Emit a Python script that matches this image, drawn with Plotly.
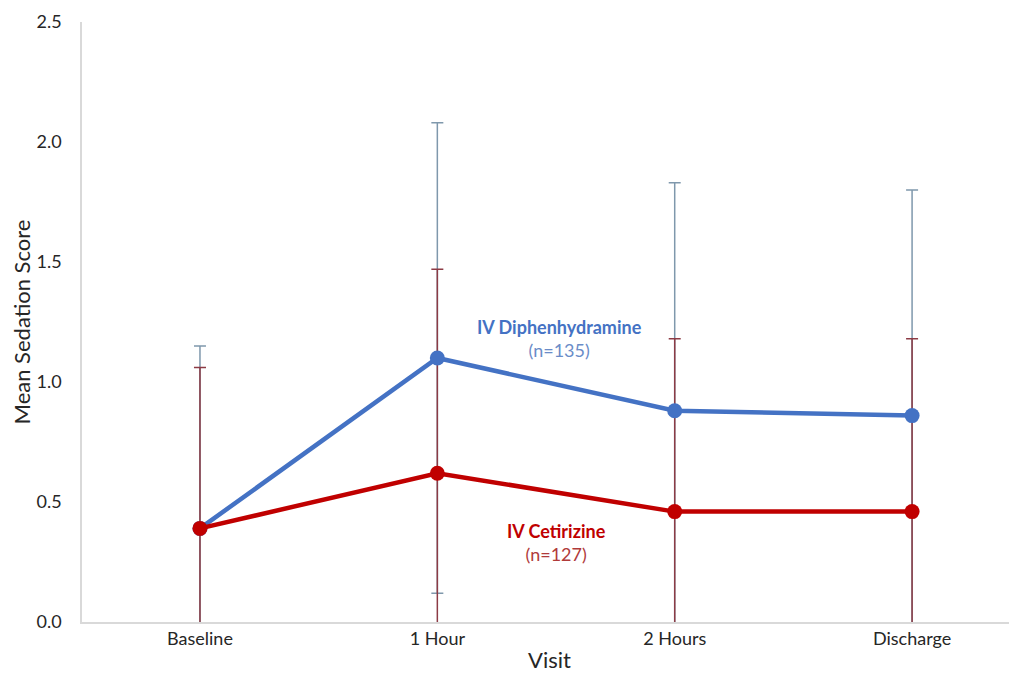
import plotly.graph_objects as go

visits = ["Baseline", "1 Hour", "2 Hours", "Discharge"]
diph_mean = [0.39, 1.10, 0.88, 0.86]
diph_err = [0.76, 0.98, 0.95, 0.94]
ceti_mean = [0.39, 0.62, 0.46, 0.46]
ceti_err = [0.67, 0.85, 0.72, 0.72]
y_ticks = [0.0, 0.5, 1.0, 1.5, 2.0, 2.5]

BLUE = "#4472C4"
RED = "#C00000"
FONT = "Lato, Open Sans, sans-serif"

fig = go.Figure()
# error bars (below lines)
fig.add_trace(go.Scatter(x=visits, y=diph_mean, mode="markers",
                         marker=dict(color="rgba(0,0,0,0)", size=1),
                         error_y=dict(type="data", array=diph_err, color="#7f98ac",
                                      thickness=1.5, width=6),
                         showlegend=False, hoverinfo="skip"))
fig.add_trace(go.Scatter(x=visits, y=ceti_mean, mode="markers",
                         marker=dict(color="rgba(0,0,0,0)", size=1),
                         error_y=dict(type="data", array=ceti_err, color="#8c3b45",
                                      thickness=1.5, width=6),
                         showlegend=False, hoverinfo="skip"))
fig.add_trace(go.Scatter(x=visits, y=diph_mean, mode="lines+markers", name="IV Diphenhydramine",
                         line=dict(color=BLUE, width=4.5),
                         marker=dict(color=BLUE, size=15), showlegend=False))
fig.add_trace(go.Scatter(x=visits, y=ceti_mean, mode="lines+markers", name="IV Cetirizine",
                         line=dict(color=RED, width=4.5),
                         marker=dict(color=RED, size=15), showlegend=False))

fig.add_annotation(x=1.516, y=1.183,
                   text="<b>IV Diphenhydramine</b><br><span style='color:#6a8cc8'>(n=135)</span>",
                   showarrow=False, align="center",
                   font=dict(family=FONT, size=18, color=BLUE))
fig.add_annotation(x=1.50, y=0.33,
                   text="<b>IV Cetirizine</b><br><span style='color:#b03a3a'>(n=127)</span>",
                   showarrow=False, align="center",
                   font=dict(family=FONT, size=18, color=RED))

# page body has an 8px margin: shrink figure so the plot sits where the reference's does
fig.update_layout(
    width=1009, height=666,
    margin=dict(l=74, r=0, t=14, b=52),
    paper_bgcolor="white", plot_bgcolor="white",
    font=dict(family=FONT, size=18, color="#262626"),
    xaxis=dict(type="category", range=[-0.497, 3.442], showgrid=False, automargin=False,
               showline=True, linecolor="#d9d9d9", linewidth=1.5, ticks="",
               title=dict(text="Visit", font=dict(size=22), standoff=4),
               tickfont=dict(size=18)),
    yaxis=dict(range=[0, 2.5], tickvals=y_ticks, tickformat=".1f", showgrid=False,
               automargin=False, ticklabelstandoff=15,
               zeroline=False, showline=True, linecolor="#d9d9d9", linewidth=1.5, ticks="",
               title=dict(text="Mean Sedation Score", font=dict(size=22), standoff=4),
               tickfont=dict(size=18)),
)

fig.write_html("out.html")
